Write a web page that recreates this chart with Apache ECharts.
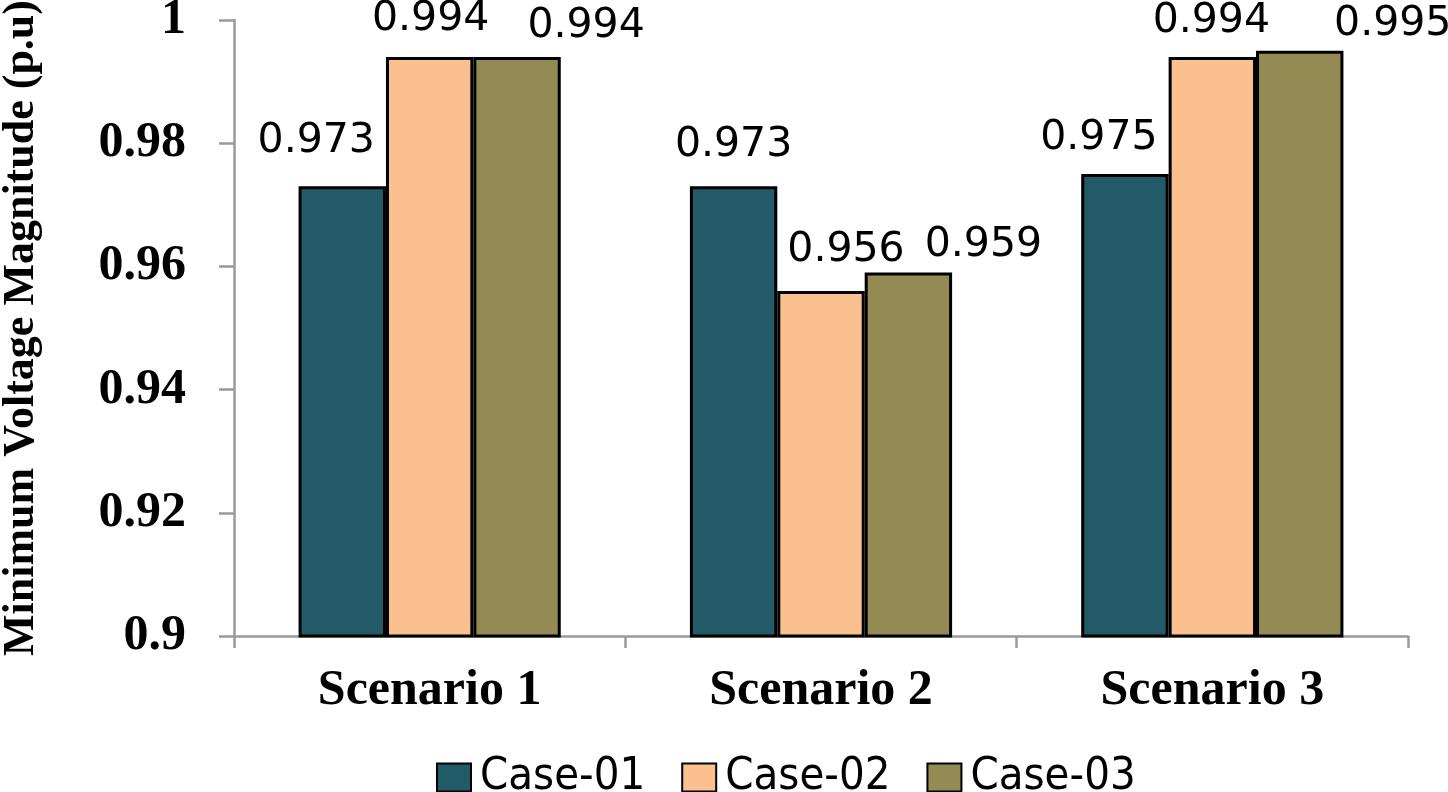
<!DOCTYPE html>
<html>
<head>
<meta charset="utf-8">
<script src="https://cdn.jsdelivr.net/npm/echarts@6/dist/echarts.min.js"></script>
<style>
html,body{margin:0;padding:0;background:#fff;}
#chart{width:1448px;height:792px;}
</style>
</head>
<body>
<div id="chart"></div>
<script>
const categories = ['Scenario 1', 'Scenario 2', 'Scenario 3'];
const seriesNames = ['Case-01', 'Case-02', 'Case-03'];
const case01 = [0.973, 0.973, 0.975];
const case02 = [0.994, 0.956, 0.994];
const case03 = [0.994, 0.959, 0.995];
const yTicks = [0.9, 0.92, 0.94, 0.96, 0.98, 1];

const colors = ['#235A68', '#FAC090', '#948A54'];
// label placement tweaks (style only), per series per category
const labelOffsets = [
  [[-26, -24], [0, -20], [-26, -15]],
  [[1, -17], [25, -20], [-1, -15]],
  [[69, -10], [75, -7], [93, -6]]
];

const values = [case01, case02, case03];
const chart = echarts.init(document.getElementById('chart'));

const series = values.map((vals, si) => ({
  name: seriesNames[si],
  type: 'bar',
  barGap: '0%',
  barCategoryGap: '33%',
  itemStyle: { color: colors[si], borderColor: '#000', borderWidth: 3 },
  label: {
    show: true,
    position: 'top',
    distance: 0,
    fontFamily: 'DejaVu Sans',
    fontSize: 41,
    color: '#000',
    formatter: p => p.value.toFixed(3)
  },
  data: vals.map((v, ci) => ({ value: v, label: { offset: labelOffsets[si][ci] } }))
}));

chart.setOption({
  animation: false,
  backgroundColor: '#fff',
  grid: { left: 234, right: 40, top: 20, bottom: 156, containLabel: false, outerBoundsMode: 'none' },
  legend: {
    data: seriesNames,
    left: 431,
    top: 750,
    icon: 'rect',
    itemWidth: 34,
    itemHeight: 28,
    itemGap: 36,
    textStyle: { fontFamily: 'DejaVu Sans Condensed', fontSize: 45, color: '#000', padding: [0, 0, 0, 4] }
  },
  xAxis: {
    type: 'category',
    data: categories,
    axisLine: { lineStyle: { color: '#9a9a9a', width: 2.5 } },
    axisTick: { show: true, length: 12, lineStyle: { color: '#9a9a9a', width: 2.5 } },
    axisLabel: { fontFamily: 'Liberation Serif', fontWeight: 'bold', fontSize: 50, color: '#000', margin: 30 }
  },
  yAxis: {
    type: 'value',
    min: yTicks[0],
    max: yTicks[yTicks.length - 1],
    interval: 0.02,
    name: 'Minimum Voltage Magnitude (p.u)',
    nameLocation: 'middle',
    nameGap: 190,
    nameTextStyle: { fontFamily: 'Liberation Serif', fontWeight: 'bold', fontSize: 44, color: '#000' },
    splitLine: { show: false },
    axisLine: { show: true, lineStyle: { color: '#9a9a9a', width: 2.5 } },
    axisTick: { show: true, length: 15, lineStyle: { color: '#9a9a9a', width: 2.5 } },
    axisLabel: {
      fontFamily: 'Liberation Serif', fontWeight: 'bold', fontSize: 50, color: '#000', margin: 48,
      formatter: v => String(parseFloat(v.toFixed(2)))
    }
  },
  series: series
});
</script>
</body>
</html>
